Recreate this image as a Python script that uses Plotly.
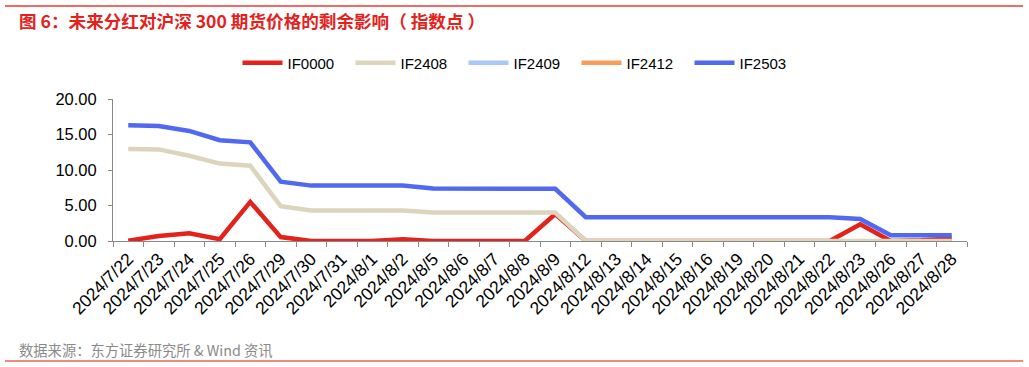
import plotly.graph_objects as go

dates = ["2024/7/22","2024/7/23","2024/7/24","2024/7/25","2024/7/26","2024/7/29","2024/7/30","2024/7/31",
         "2024/8/1","2024/8/2","2024/8/5","2024/8/6","2024/8/7","2024/8/8","2024/8/9","2024/8/12",
         "2024/8/13","2024/8/14","2024/8/15","2024/8/16","2024/8/19","2024/8/20","2024/8/21","2024/8/22",
         "2024/8/23","2024/8/26","2024/8/27","2024/8/28"]

if0000 = [0.05,0.7,1.1,0.25,5.5,0.55,0.0,0.0,0.0,0.25,0.0,0.0,0.0,0.0,3.8,0.0,
          0.0,0.0,0.0,0.0,0.0,0.0,0.0,0.0,2.35,0.0,0.1,0.35]
if2408 = [12.95,12.9,12.0,10.9,10.6,4.9,4.3,4.3,4.3,4.3,4.0,4.0,4.0,4.0,4.0,0.0,
          0.0,0.0,0.0,0.0,0.0,0.0,0.0,0.0,0.0,0.0,0.0,0.0]
if2409 = [None]*28
if2412 = [None]*28
if2503 = [16.3,16.2,15.5,14.2,13.9,8.35,7.8,7.8,7.8,7.8,7.4,7.4,7.4,7.4,7.35,3.35,
          3.35,3.35,3.35,3.35,3.35,3.35,3.35,3.35,3.1,0.8,0.8,0.8]

series = [("IF0000", if0000, "#E3221C"),
          ("IF2408", if2408, "#DDD4BD"),
          ("IF2409", if2409, "#A9C7F7"),
          ("IF2412", if2412, "#F89C5A"),
          ("IF2503", if2503, "#5169F0")]

fig = go.Figure()
for name, vals, col in series:
    fig.add_trace(go.Scatter(x=dates, y=vals, name=name, mode="lines",
                             line=dict(color=col, width=4.5), connectgaps=False))

W, PL, PR = 1029, 113, 62
PW = W - PL - PR  # 854
PT, PB = 99, 241
PH = PB - PT      # 142

def px_x(x):
    return (x - PL) / PW

def px_y(y):
    return (PB - y) / PH

fig.update_layout(
    width=W, height=367,
    margin=dict(l=PL, r=PR, t=PT, b=367 - PB),
    paper_bgcolor="white", plot_bgcolor="white",
    font=dict(family="Liberation Sans, Arial, sans-serif", color="#000000"),
    showlegend=True,
    legend=dict(orientation="h", x=px_x(520), xanchor="center",
                y=px_y(63), yanchor="middle",
                font=dict(size=15), itemwidth=40, entrywidth=58,
                tracegroupgap=0),
)

fig.update_xaxes(type="category", range=[-0.5, 27.5], tickson="boundaries",
                 ticks="outside", ticklen=5, tickcolor="#888888",
                 showline=True, linecolor="#888888", linewidth=1,
                 showgrid=False, tickangle=-45, tickfont=dict(size=17.5))
fig.update_yaxes(range=[0, 20], dtick=5, tickformat=".2f",
                 ticks="outside", ticklen=4, tickcolor="#888888",
                 ticklabelstandoff=8,
                 showline=True, linecolor="#888888", linewidth=1,
                 showgrid=False, zeroline=False, tickfont=dict(size=16.5))

fig.add_annotation(text="<b>图 6：未来分红对沪深 300 期货价格的剩余影响（ 指数点 ）</b>",
                   xref="paper", yref="paper", x=px_x(17), y=px_y(20),
                   xanchor="left", yanchor="middle", showarrow=False,
                   font=dict(family="Noto Sans CJK SC", size=17.6, color="#E3221C"))
fig.add_annotation(text="数据来源：东方证券研究所 & Wind 资讯",
                   xref="paper", yref="paper", x=px_x(17), y=px_y(349),
                   xanchor="left", yanchor="middle", showarrow=False,
                   font=dict(family="Noto Sans CJK SC", size=14.3, color="#8A8A8A"))

fig.add_shape(type="line", xref="paper", yref="paper", x0=px_x(5), x1=px_x(1023),
              y0=px_y(6), y1=px_y(6), line=dict(color="#EE3A2E", width=1.5))
fig.add_shape(type="line", xref="paper", yref="paper", x0=px_x(5), x1=px_x(1023),
              y0=px_y(361), y1=px_y(361), line=dict(color="#F28A7C", width=2))

fig.write_html("out.html")
